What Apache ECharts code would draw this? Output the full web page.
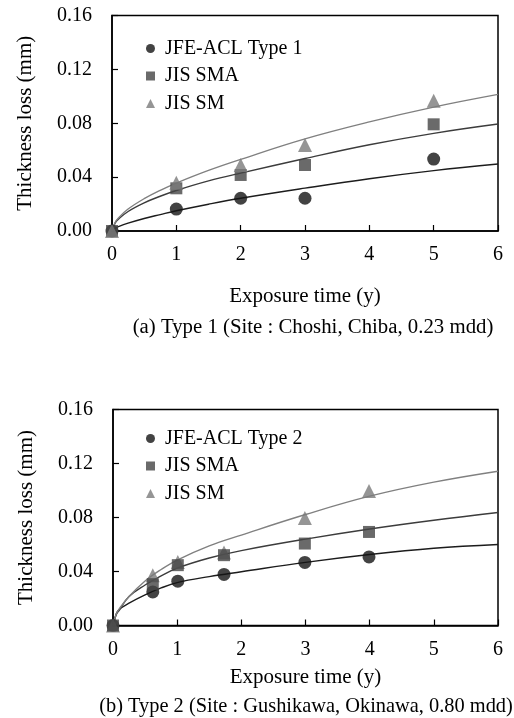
<!DOCTYPE html>
<html>
<head>
<meta charset="utf-8">
<script src="https://cdn.jsdelivr.net/npm/echarts@6/dist/echarts.min.js"></script>
<style>
html,body{margin:0;padding:0;background:#fff;}
#c{width:514px;height:718px;}
</style>
</head>
<body>
<div id="c"></div>
<script>
// ---------- data ----------
const seriesNamesA = ['JFE-ACL Type 1', 'JIS SMA', 'JIS SM'];
const seriesNamesB = ['JFE-ACL Type 2', 'JIS SMA', 'JIS SM'];
const xTicks = [0, 1, 2, 3, 4, 5, 6];
const yTicks = [0, 0.04, 0.08, 0.12, 0.16];

// (a) measured points
const aTime = [0, 1, 2, 3, 5];
const aJfe = [0, 0.0163, 0.0243, 0.0243, 0.0534];
const aSma = [0, 0.0317, 0.0416, 0.0490, 0.0792];
const aSm  = [0, 0.0359, 0.0490, 0.0638, 0.0967];

// (a) fitted curves
const fitTime = [0, 0.05, 0.1, 0.25, 0.5, 0.75, 1, 1.5, 2, 3, 4, 5, 6];
const aJfeFit = [0, 0.0020, 0.0032, 0.0058, 0.0093, 0.0122, 0.0150, 0.0199, 0.0243, 0.0318, 0.0388, 0.0448, 0.0497];
const aSmaFit = [0, 0.0060, 0.0088, 0.0145, 0.0209, 0.0258, 0.0301, 0.0372, 0.0430, 0.0538, 0.0640, 0.0725, 0.0794];
const aSmFit  = [0, 0.0064, 0.0097, 0.0163, 0.0240, 0.0302, 0.0356, 0.0450, 0.0532, 0.0684, 0.0810, 0.0920, 0.1014];

// (b) measured points
const bTime = [0, 0.62, 1.01, 1.73, 2.99, 3.99];
const bJfe = [0, 0.0249, 0.0328, 0.0378, 0.0467, 0.0508];
const bSma = [0, 0.0306, 0.0447, 0.0521, 0.0607, 0.0693];
const bSm  = [0, 0.0373, 0.0471, 0.0541, 0.0797, 0.0997];

// (b) fitted curves
const bJfeFit = [0, 0.0085, 0.0120, 0.0165, 0.0226, 0.0278, 0.0318, 0.0362, 0.0398, 0.0468, 0.0526, 0.0572, 0.0600];
const bSmaFit = [0, 0.0080, 0.0115, 0.0215, 0.0300, 0.0368, 0.0425, 0.0500, 0.0555, 0.0640, 0.0715, 0.0780, 0.0837];
const bSmFit  = [0, 0.0085, 0.0125, 0.0215, 0.0330, 0.0415, 0.0485, 0.0590, 0.0670, 0.0822, 0.0958, 0.1062, 0.1143];

const captionA = '(a) Type 1 (Site : Choshi, Chiba, 0.23 mdd)';
const captionB = '(b) Type 2 (Site : Gushikawa, Okinawa, 0.80 mdd)';
const xTitle = 'Exposure time (y)';
const yTitle = 'Thickness loss (mm)';

// ---------- styling ----------
const FONT = "'Liberation Serif', 'Times New Roman', serif";
const colJfe = '#141414', colSma = '#454545', colSm = '#7a7a7a';
const lineJfe = '#1c1c1c', lineSma = '#3c3c3c', lineSm = '#808080';

const zip = (xs, ys) => xs.map((x, i) => [x, ys[i]]);

function xAxis(gridIndex, nameGap) {
  return {
    type: 'value', gridIndex, min: xTicks[0], max: xTicks[xTicks.length - 1], interval: 1,
    name: xTitle, nameLocation: 'middle', nameGap,
    nameTextStyle: { fontFamily: FONT, fontSize: 21, color: '#000' },
    axisLine: { show: true, onZero: false, lineStyle: { color: '#000', width: 1.5 } },
    axisTick: { show: true, inside: true, length: 6, lineStyle: { color: '#000', width: 1.2 } },
    axisLabel: { fontFamily: FONT, fontSize: 20, color: '#000', margin: 14 },
    splitLine: { show: false }
  };
}
function yAxis(gridIndex) {
  return {
    type: 'value', gridIndex, min: yTicks[0], max: yTicks[yTicks.length - 1], interval: 0.04,
    name: yTitle, nameLocation: 'middle', nameGap: 76, nameRotate: 90,
    nameTextStyle: { fontFamily: FONT, fontSize: 21, color: '#000' },
    axisLine: { show: true, lineStyle: { color: '#000', width: 1.5 } },
    axisTick: { show: true, inside: true, length: 6, lineStyle: { color: '#000', width: 1.2 } },
    axisLabel: { fontFamily: FONT, fontSize: 20, color: '#000', margin: 20,
      formatter: v => v.toFixed(2) },
    splitLine: { show: false }
  };
}
function scatter(name, idx, time, vals, symbol, color, size, z) {
  return { type: 'scatter', name, xAxisIndex: idx, yAxisIndex: idx, data: zip(time, vals),
    symbol, symbolSize: size, itemStyle: { color }, z, silent: true };
}
function fit(idx, vals, color, z) {
  return { type: 'line', xAxisIndex: idx, yAxisIndex: idx, data: zip(fitTime, vals),
    smooth: 0.4, showSymbol: false, symbol: 'none', lineStyle: { color, width: 1.4 }, z, silent: true };
}
function legend(names, top) {
  return {
    orient: 'vertical', left: 141, top, itemGap: 7.5, itemWidth: 9, itemHeight: 9,
    data: [
      { name: names[0], icon: 'circle', itemStyle: { color: colJfe } },
      { name: names[1], icon: 'rect', itemStyle: { color: colSma } },
      { name: names[2], icon: 'triangle', itemStyle: { color: colSm } }
    ],
    textStyle: { fontFamily: FONT, fontSize: 20, color: '#000', padding: [0, 0, 0, 5] },
    selectedMode: false
  };
}

const option = {
  animation: false,
  backgroundColor: '#fff',
  grid: [
    { left: 112, right: 16, top: 15.5, height: 215.5, show: true, borderColor: '#000', borderWidth: 1.5 },
    { left: 113, right: 16, top: 409.5, height: 216, show: true, borderColor: '#000', borderWidth: 1.5 }
  ],
  xAxis: [xAxis(0, 55), xAxis(1, 41)],
  yAxis: [yAxis(0), yAxis(1)],
  legend: [legend(seriesNamesA, 33.5), legend(seriesNamesB, 423.5)],
  title: [
    { text: captionA, left: 308, top: 312, textAlign: 'center',
      textStyle: { fontFamily: FONT, fontSize: 20.8, fontWeight: 'normal', color: '#000' } },
    { text: captionB, left: 301, top: 692, textAlign: 'center',
      textStyle: { fontFamily: FONT, fontSize: 20.4, fontWeight: 'normal', color: '#000' } }
  ],
  series: [
    fit(0, aJfeFit, lineJfe, 2),
    fit(0, aSmaFit, lineSma, 2),
    fit(0, aSmFit, lineSm, 2),
    scatter(seriesNamesA[0], 0, aTime, aJfe, 'circle', colJfe, 13, 3),
    scatter(seriesNamesA[1], 0, aTime, aSma, 'rect', colSma, 12, 4),
    scatter(seriesNamesA[2], 0, aTime, aSm, 'triangle', colSm, 14, 5),
    fit(1, bJfeFit, lineJfe, 2),
    fit(1, bSmaFit, lineSma, 2),
    fit(1, bSmFit, lineSm, 2),
    scatter(seriesNamesB[0], 1, bTime, bJfe, 'circle', colJfe, 13, 3),
    scatter(seriesNamesB[2], 1, bTime, bSm, 'triangle', colSm, 14, 4),
    scatter(seriesNamesB[1], 1, bTime, bSma, 'rect', colSma, 12, 5)
  ]
};
const chart = echarts.init(document.getElementById('c'), null, { renderer: 'canvas' });
chart.setOption(option);
</script>
</body>
</html>
